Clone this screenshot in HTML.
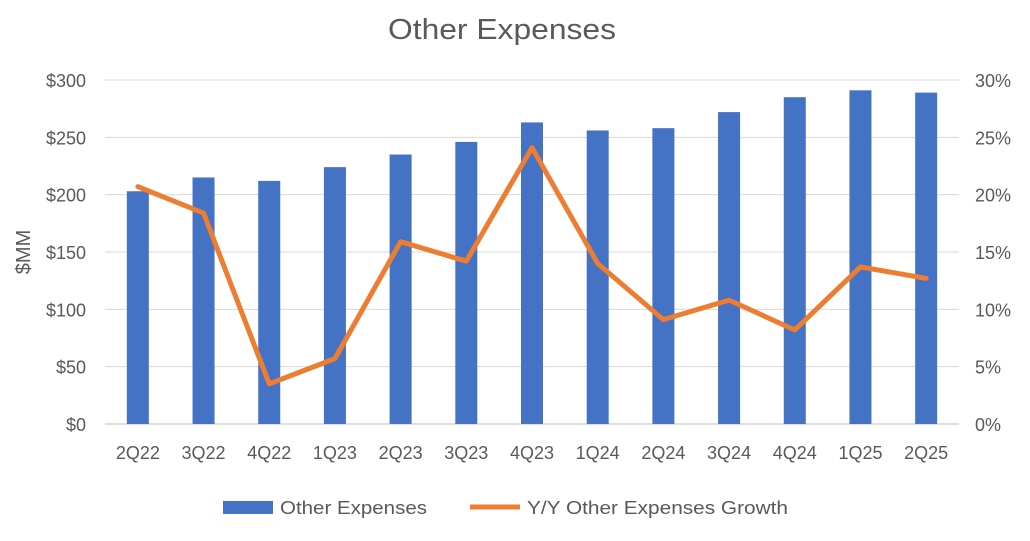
<!DOCTYPE html>
<html><head><meta charset="utf-8"><style>
body{margin:0;background:#fff;font-family:"Liberation Sans",sans-serif;}
svg text{font-family:"Liberation Sans",sans-serif;fill:#595959;}
</style></head><body>
<svg width="1030" height="536">
<text x="388" y="39" font-size="29" textLength="228" lengthAdjust="spacingAndGlyphs">Other Expenses</text>
<g id="grid"></g><g id="bars"></g><g id="line"></g><g id="axes"></g>
<text transform="translate(30,252) rotate(-90)" font-size="20" text-anchor="middle">$MM</text>
<g>
<rect x="223" y="501" width="50" height="13" fill="#4472C4"></rect>
<text x="280" y="514" font-size="18" textLength="147" lengthAdjust="spacingAndGlyphs">Other Expenses</text>
<line x1="470" y1="507" x2="520" y2="507" stroke="#ED7D31" stroke-width="5"></line>
<text x="527" y="514" font-size="18" textLength="261" lengthAdjust="spacingAndGlyphs">Y/Y Other Expenses Growth</text>
</g>
</svg>
<script>
const categories=["2Q22","3Q22","4Q22","1Q23","2Q23","3Q23","4Q23","1Q24","2Q24","3Q24","4Q24","1Q25","2Q25"];
const expenses=[203,215,212,224,235,246,263,256,258,272,285,291,289];
const growth=[20.7,18.4,3.5,5.7,15.9,14.2,24.1,14.0,9.1,10.8,8.2,13.7,12.7];
const leftTicks=["$0","$50","$100","$150","$200","$250","$300"];
const rightTicks=["0%","5%","10%","15%","20%","25%","30%"];
const NS="http://www.w3.org/2000/svg";
const x0=105,x1=959,yB=424,yT=80;
const band=(x1-x0)/categories.length;
const xc=i=>x0+band*(i+0.5);
const yL=v=>yB-(v/300)*(yB-yT);
const yR=v=>yB-(v/30)*(yB-yT);
function mk(tag,attrs,parent,txt){const e=document.createElementNS(NS,tag);for(const k in attrs)e.setAttribute(k,attrs[k]);if(txt!=null)e.textContent=txt;document.getElementById(parent).appendChild(e);return e;}
leftTicks.forEach((t,i)=>{const y=yL(i*50);
 const g=mk('line',{x1:x0,x2:x1,y1:y,y2:y,stroke:i==0?'#bfbfbf':'#d9d9d9','stroke-width':1},'grid');
 
 
 const a=mk('text',{x:86,y:y+7,'font-size':18,'text-anchor':'end'},'axes',t);
 
 
 const b=mk('text',{x:975,y:y+7,'font-size':18},'axes',rightTicks[i]);
 
 
});
categories.forEach((c,i)=>{
 const r=mk('rect',{x:xc(i)-11,y:yL(expenses[i]),width:22,height:yB-yL(expenses[i]),fill:'#4472C4'},'bars');
 
 
 const t=mk('text',{x:xc(i),y:459,'font-size':18,'text-anchor':'middle'},'axes',c);
 
 
});
const p=mk('polyline',{points:growth.map((v,i)=>xc(i)+','+yR(v)).join(' '),fill:'none',stroke:'#ED7D31','stroke-width':5,'stroke-linejoin':'round','stroke-linecap':'round'},'line');


</script>
</body></html>
